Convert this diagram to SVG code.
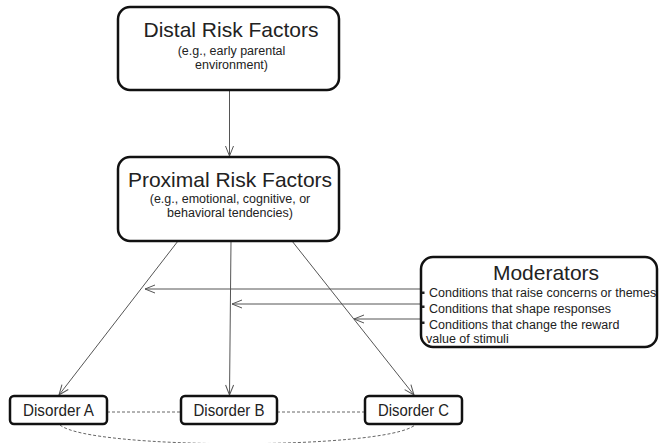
<svg xmlns="http://www.w3.org/2000/svg" width="659" height="443" viewBox="0 0 659 443">
  <style>
    .box { fill: #fff; stroke: #111; stroke-width: 2.5; }
    .t { font-family: "Liberation Sans", Arial, sans-serif; fill: #222; }
    .title { font-size: 21px; text-anchor: middle; }
    .sub { font-size: 12.5px; text-anchor: middle; }
    .item { font-size: 12.5px; }
    .dis { font-size: 16px; text-anchor: middle; }
    .link { fill: none; stroke: #555; stroke-width: 1; }
    .dash { fill: none; stroke: #666; stroke-width: 1; stroke-dasharray: 3 2; }
  </style>
  <defs>
    <marker id="open" viewBox="0 0 12 10" refX="11" refY="5" markerWidth="12" markerHeight="10" markerUnits="userSpaceOnUse" orient="auto">
      <path d="M1,1 L11,5 L1,9" fill="none" stroke="#555" stroke-width="1"/>
    </marker>
  </defs>

  <g id="connectors">
    <line class="link" x1="229.5" y1="90" x2="229.5" y2="156" marker-end="url(#open)"/>
    <line class="link" x1="178" y1="241" x2="59" y2="395" marker-end="url(#open)"/>
    <line class="link" x1="231" y1="241" x2="229.5" y2="395" marker-end="url(#open)"/>
    <line class="link" x1="292" y1="241" x2="414" y2="395" marker-end="url(#open)"/>
    <line class="link" x1="421" y1="289" x2="145" y2="289" marker-end="url(#open)"/>
    <line class="link" x1="421" y1="304" x2="232" y2="304" marker-end="url(#open)"/>
    <line class="link" x1="421" y1="319" x2="354" y2="319" marker-end="url(#open)"/>
    <line class="dash" x1="107" y1="412" x2="181" y2="412"/>
    <line class="dash" x1="277" y1="412" x2="365" y2="412"/>
    <path class="dash" d="M60,425 C90,450 385,450 415,425"/>
  </g>

  <g id="distal">
    <rect class="box" x="118" y="7" width="221" height="83" rx="12"/>
    <text class="t title" x="231" y="37">Distal Risk Factors</text>
    <text class="t sub" x="231.5" y="55">(e.g., early parental</text>
    <text class="t sub" x="231.5" y="68.5">environment)</text>
  </g>

  <g id="proximal">
    <rect class="box" x="118" y="157" width="221" height="84" rx="12"/>
    <text class="t title" x="230" y="187">Proximal Risk Factors</text>
    <text class="t sub" x="230" y="203">(e.g., emotional, cognitive, or</text>
    <text class="t sub" x="230" y="217">behavioral tendencies)</text>
  </g>

  <g id="moderators">
    <rect class="box" x="421" y="257" width="236" height="90" rx="12"/>
    <text class="t title" x="546" y="280">Moderators</text>
    <rect x="422" y="291.5" width="2.5" height="2.5" fill="#222"/>
    <rect x="422" y="305.5" width="2.5" height="2.5" fill="#222"/>
    <rect x="422" y="321.5" width="2.5" height="2.5" fill="#222"/>
    <text class="t item" x="429" y="297">Conditions that raise concerns or themes</text>
    <text class="t item" x="429" y="313">Conditions that shape responses</text>
    <text class="t item" x="429" y="329">Conditions that change the reward</text>
    <text class="t item" x="426" y="343">value of stimuli</text>
  </g>

  <g id="disorderA">
    <rect class="box" x="10" y="396" width="97" height="28" rx="4"/>
    <text class="t dis" x="58.5" y="416" textLength="71" lengthAdjust="spacingAndGlyphs">Disorder A</text>
  </g>
  <g id="disorderB">
    <rect class="box" x="181" y="396" width="96" height="28" rx="4"/>
    <text class="t dis" x="229" y="416" textLength="71" lengthAdjust="spacingAndGlyphs">Disorder B</text>
  </g>
  <g id="disorderC">
    <rect class="box" x="365" y="396" width="97" height="28" rx="4"/>
    <text class="t dis" x="413.5" y="416" textLength="71" lengthAdjust="spacingAndGlyphs">Disorder C</text>
  </g>
</svg>
